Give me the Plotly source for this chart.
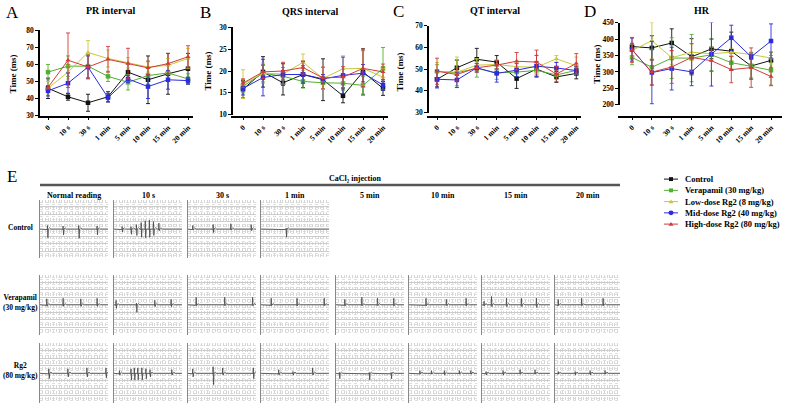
import plotly.graph_objects as go

W, H = 786, 414
SERIF = "Liberation Serif"

times = ["0", "10 s", "30 s", "1 min", "5 min", "10 min", "15 min", "20 min"]
groups = ["Control", "Verapamil (30 mg/kg)", "Low-dose Rg2 (8 mg/kg)",
          "Mid-dose Rg2 (40 mg/kg)", "High-dose Rg2 (80 mg/kg)"]
colors = ["#111111", "#52b030", "#c8c83a", "#2b2be0", "#d23a3a"]
symbols = ["square", "square", "triangle-up", "square", "triangle-up"]

# PR interval (ms): control, verapamil, low, mid, high
pr_mean = [
    [46, 41, 37.5, 41, 55.5, 51, 54.5, 57.5],
    [55.5, 59, 59, 53, 49.5, 53.5, 55, 51.5],
    [46, 55.5, 67, 63.5, 61, 58.5, 59.5, 63.5],
    [44.5, 49, 58.5, 40.5, 51.5, 47, 51, 50.5],
    [46.5, 62.5, 58.5, 63, 60.5, 58, 60.5, 64.5],
]
pr_sd = [
    [6, 2, 5, 3, 5, 14, 12, 9],
    [4.5, 6, 7, 3, 4.5, 5, 5, 3],
    [4, 4, 7, 5, 3, 3, 4, 6],
    [3, 6, 6.5, 2.5, 2, 7, 5.5, 2],
    [1, 16, 7, 7.5, 9, 4, 6, 6.5],
]
# QRS interval (ms)
qrs_mean = [
    [15.8, 19.8, 17.3, 19.2, 18, 14.3, 19.8, 16],
    [16.5, 19.5, 18.8, 17.6, 17.3, 17.2, 16.7, 20.6],
    [17, 19.5, 19.3, 22, 18.3, 20.5, 20.6, 18.6],
    [16, 18.5, 19.2, 19.2, 18.2, 19, 19.5, 16.8],
    [17.2, 19.8, 20, 20.8, 18.4, 18.6, 20.6, 19.8],
]
qrs_sd = [
    [2, 3.5, 2.8, 3, 4.8, 1.6, 5.3, 1.6],
    [1.5, 2, 2, 1.5, 1.5, 1.6, 2, 4.8],
    [3.3, 2.3, 2.3, 1.9, 2.5, 3, 4, 2],
    [1.5, 4.2, 2.5, 2, 1, 4.2, 2, 1.2],
    [1, 1.5, 2, 1.5, 2.5, 2.4, 4.2, 1.8],
]
# QT interval (ms)
qt_mean = [
    [45.3, 50.6, 54.5, 53.2, 45.6, 50, 46.4, 48],
    [49, 48.3, 50.3, 48.3, 48.6, 49.4, 47.3, 49.4],
    [49, 48.5, 51.8, 52.1, 51.1, 50.8, 54.7, 51.5],
    [45.3, 45, 50.6, 48, 49.5, 51.3, 50.5, 49.3],
    [49, 47.5, 50.6, 51.8, 53.6, 53.2, 47.7, 52.6],
]
qt_sd = [
    [3.5, 3.5, 5, 3, 4.5, 3.5, 2.5, 2.5],
    [3, 6, 4, 3, 2, 2.5, 2, 2],
    [4, 7, 3, 2, 2, 2, 1.5, 4],
    [4, 3.5, 2, 4, 3, 5, 2.5, 2],
    [6, 3, 2, 2, 4, 5.5, 3.5, 4.5],
]
# HR
hr_mean = [
    [377, 373, 388, 346, 370, 363, 318, 335],
    [344, 314, 342, 342, 352, 328, 317, 305],
    [365, 395, 343, 360, 355, 360, 353, 342],
    [368, 298, 310, 300, 354, 404, 346, 394],
    [367, 299, 315, 344, 334, 307, 313, 286],
]
hr_sd = [
    [10, 37, 43, 55, 30, 58, 40, 25],
    [22, 55, 62, 72, 48, 20, 35, 45],
    [20, 55, 20, 25, 20, 12, 8, 18],
    [35, 95, 65, 42, 97, 38, 8, 52],
    [38, 38, 50, 42, 33, 40, 60, 28],
]

# ECG beats per panel: (position 0-1, R height, S depth)
ecg_columns = ["Normal reading", "10 s", "30 s", "1 min", "5 min", "10 min", "15 min", "20 min"]
ecg_rows = ["Control", "Verapamil<br>(30 mg/kg)", "Rg2<br>(80 mg/kg)"]
ctrl_beats = [
    [(0.11, 0.12, -0.3), (0.34, 0.1, -0.2), (0.57, 0.12, -0.32), (0.84, 0.1, -0.2)],
    [(0.12, 0.08, -0.1), (0.25, 0.08, -0.18), (0.33, 0.15, -0.22), (0.40, 0.22, -0.28),
     (0.46, 0.28, -0.3), (0.52, 0.3, -0.28), (0.58, 0.25, -0.22), (0.66, 0.2, -0.06)],
    [(0.07, 0.12, -0.03), (0.37, 0.15, -0.12), (0.63, 0.18, -0.03), (0.93, 0.15, -0.06)],
    [(0.37, 0.03, -0.28)],
]
vera_beats = [
    [(0.1, 0.2, -0.05), (0.34, 0.22, -0.05), (0.6, 0.2, -0.05), (0.84, 0.22, -0.05)],
    [(0.03, 0.15, -0.12), (0.33, 0.06, -0.25), (0.6, 0.15, -0.06), (0.84, 0.18, -0.06)],
    [(0.12, 0.25, -0.03), (0.54, 0.25, -0.03), (0.95, 0.25, -0.03)],
    [(0.15, 0.22, -0.03), (0.53, 0.22, -0.03), (0.93, 0.22, -0.03)],
    [(0.13, 0.18, -0.03), (0.38, 0.25, -0.03), (0.61, 0.22, -0.03), (0.85, 0.22, -0.03)],
    [(0.25, 0.22, -0.03), (0.55, 0.18, -0.03), (0.84, 0.22, -0.03)],
    [(0.03, 0.12, -0.03), (0.14, 0.28, -0.06), (0.36, 0.22, -0.06), (0.58, 0.22, -0.06), (0.8, 0.22, -0.09)],
    [(0.05, 0.18, -0.03), (0.41, 0.22, -0.03), (0.74, 0.22, -0.03)],
]
rg2_beats = [
    [(0.13, 0.15, -0.18), (0.41, 0.15, -0.12), (0.69, 0.18, -0.12), (0.97, 0.18, -0.15)],
    [(0.08, 0.09, -0.06), (0.25, 0.15, -0.22), (0.3, 0.18, -0.22), (0.35, 0.18, -0.22),
     (0.41, 0.18, -0.22), (0.47, 0.15, -0.18), (0.53, 0.12, -0.12), (0.85, 0.12, -0.06)],
    [(0.07, 0.15, -0.12), (0.37, 0.22, -0.38), (0.51, 0.18, -0.06), (0.96, 0.18, -0.18)],
    [(0.26, 0.12, -0.06), (0.47, 0.06, -0.06), (0.76, 0.18, -0.06)],
    [(0.05, 0.03, -0.18), (0.49, 0.03, -0.22), (0.81, 0.03, -0.18)],
    [(0.16, 0.09, -0.03), (0.33, 0.09, -0.03), (0.52, 0.09, -0.06), (0.74, 0.09, -0.03), (0.91, 0.09, -0.03)],
    [(0.06, 0.06, -0.06), (0.31, 0.09, -0.06), (0.56, 0.12, -0.03), (0.78, 0.12, -0.03)],
    [(0.05, 0.06, -0.03), (0.31, 0.06, -0.06), (0.54, 0.09, -0.06), (0.77, 0.09, -0.03)],
]


def fx(px):
    return px / W


def fy(py):
    return 1 - py / H


def ak(letter, n):
    return f"{letter}axis" if n == 1 else f"{letter}axis{n}"


def ar(letter, n):
    return letter if n == 1 else f"{letter}{n}"


def label(text, px, py, size=8, weight="bold", xanchor="center", angle=0):
    return dict(text=text, x=fx(px), y=fy(py), xref="paper", yref="paper",
                xanchor=xanchor, yanchor="middle", showarrow=False, textangle=angle,
                font=dict(size=size, weight=weight))


fig = go.Figure()
layout = dict(
    width=W, height=H, margin=dict(l=0, r=0, t=0, b=0),
    paper_bgcolor="white", plot_bgcolor="rgba(0,0,0,0)",
    showlegend=False, font=dict(family=SERIF, color="black"),
)
annotations = []
shapes = []

tickfont = dict(family=SERIF, size=7.5, color="black", weight="bold")
axis_line = dict(showline=True, linecolor="black", linewidth=1.5, ticks="outside",
                 ticklen=3, tickwidth=1.3, tickcolor="black", showgrid=False,
                 zeroline=False, tickfont=tickfont)

# panel geometry: L, R, first point px, step, top, bottom, lower top, lower bottom
panels = [
    ("A", "PR interval", pr_mean, pr_sd, (40, 193, 48, 20.0, 27, 114, 123, 132),
     [30, 80], 10, [0, 10], ["0", ""], (110, 7), (12, 9), (13, 71)),
    ("B", "QRS interval", qrs_mean, qrs_sd, (233, 388, 243, 20.0, 24, 113, 121, 131),
     [10, 30], 5, [0, 10], ["0", "10"], (310, 8), (205, 9), (208, 68)),
    ("C", "QT interval", qt_mean, qt_sd, (429, 581, 437, 19.9, 22, 111, 118, 128),
     [30, 70], 10, [0, 10], ["0", ""], (495, 7), (398, 8), (400, 70)),
    ("D", "HR", hr_mean, hr_sd, (620, 782, 632, 19.86, 19, 103, 110, 126),
     [200, 450], 50, [0, 200], ["0", "200"], (702, 7), (590, 8), (597, 62)),
]

for k, (letter, title, means, sds, geo, yr, dt, lowr, lowt, tpos, lpos, ypos) in enumerate(panels):
    L, R, p0, s, top, bot, ltop, lbot = geo
    xn, yu, yl = k + 1, 2 * k + 1, 2 * k + 2
    layout[ak("x", xn)] = dict(
        domain=[fx(L), fx(R)], range=[(L - p0) / s, (R - p0) / s],
        anchor=ar("y", yl), tickvals=list(range(len(times))), ticktext=times,
        tickangle=-45, **axis_line)
    layout[ak("y", yu)] = dict(
        domain=[fy(bot), fy(top)], range=yr, dtick=dt, anchor=ar("x", xn), **axis_line)
    layout[ak("y", yl)] = dict(
        domain=[fy(lbot), fy(ltop)], range=lowr, tickvals=lowr, ticktext=lowt,
        anchor=ar("x", xn), **axis_line)
    for g in range(len(groups)):
        fig.add_trace(go.Scatter(
            x=list(range(len(times))), y=means[g],
            error_y=dict(type="data", array=sds[g], color=colors[g], thickness=0.9, width=2),
            mode="lines+markers", line=dict(color=colors[g], width=1),
            marker=dict(symbol=symbols[g], size=4.5, color=colors[g]),
            name=groups[g], xaxis=ar("x", xn), yaxis=ar("y", yu), cliponaxis=False))
    annotations.append(label(title, tpos[0], tpos[1], size=10))
    annotations.append(label(letter, lpos[0], lpos[1], size=17, weight="normal"))
    annotations.append(label("Time (ms)", ypos[0], ypos[1], size=9, angle=-90))

# ECG section
annotations.append(label("E", 12, 176, size=17, weight="normal"))
annotations.append(label("CaCl₂ injection", 355, 178))
shapes.append(dict(type="line", xref="paper", yref="paper", x0=fx(40), x1=fx(620),
                   y0=fy(185), y1=fy(185), line=dict(color="#555555", width=2.5)))

col_x = [40, 114, 188, 261, 336, 409, 482, 555]
col_w = [68, 68, 68, 68, 68, 68, 68, 65]
row_y = [(200, 260), (277, 338), (347, 408)]
row_label_y = [228, 305, 375]

for c, name in enumerate(ecg_columns):
    annotations.append(label(name, col_x[c] + col_w[c] / 2, 196))
for r, name in enumerate(ecg_rows):
    annotations.append(label(name, 20, row_label_y[r], size=7.5))


def ecg_line(beats):
    xs, ys = [0.0], [0.0]
    for i, (p, up, dn) in enumerate(beats):
        nxt = beats[i + 1][0] if i + 1 < len(beats) else 2.0
        xs += [p - 0.015, p - 0.005, p, p + 0.006, p + 0.012]
        ys += [0, -0.02, up, dn, 0]
        if p + 0.05 < nxt - 0.015:
            xs += [p + 0.03, p + 0.05]
            ys += [0.04, 0]
    xs.append(1.0)
    ys.append(0.0)
    return xs, ys


an = 5
for r, row in enumerate([ctrl_beats, vera_beats, rg2_beats]):
    y0, y1 = row_y[r]
    for c, beats in enumerate(row):
        xn, yn = an, an + 4
        layout[ak("x", xn)] = dict(
            domain=[fx(col_x[c]), fx(col_x[c] + col_w[c])], range=[0, 1], anchor=ar("y", yn),
            showticklabels=False, ticks="", zeroline=False, showline=False,
            showgrid=True, dtick=0.04, gridcolor="#d6d6d6", gridwidth=0.5, griddash="dot")
        layout[ak("y", yn)] = dict(
            domain=[fy(y1), fy(y0)], range=[-1, 1], anchor=ar("x", xn),
            showticklabels=False, ticks="", zeroline=False,
            showline=True, linecolor="#888888", linewidth=1.2,
            showgrid=True, dtick=0.25, gridcolor="#cccccc", gridwidth=0.6,
            minor=dict(dtick=0.0833, showgrid=True, gridcolor="#dedede", griddash="dot", gridwidth=0.5))
        xs, ys = ecg_line(beats)
        fig.add_trace(go.Scatter(x=xs, y=ys, mode="lines", line=dict(color="#444444", width=0.8),
                                 xaxis=ar("x", xn), yaxis=ar("y", yn), hoverinfo="skip"))
        an += 1

# legend (drawn by hand for compact spacing)
leg_y = [179, 190.5, 202, 213.5, 225]
for g, name in enumerate(groups):
    yy = leg_y[g]
    shapes.append(dict(type="line", xref="paper", yref="paper", x0=fx(664), x1=fx(678),
                       y0=fy(yy), y1=fy(yy), line=dict(color=colors[g], width=1)))
    if symbols[g] == "triangle-up":
        path = f"M {fx(668.5)} {fy(yy + 1.8)} L {fx(673.5)} {fy(yy + 1.8)} L {fx(671)} {fy(yy - 2.2)} Z"
        shapes.append(dict(type="path", xref="paper", yref="paper", path=path,
                           fillcolor=colors[g], line=dict(width=0)))
    elif g == 3:
        shapes.append(dict(type="circle", xref="paper", yref="paper", x0=fx(668.5), x1=fx(673.5),
                           y0=fy(yy + 2.5), y1=fy(yy - 2.5), fillcolor=colors[g], line=dict(width=0)))
    else:
        shapes.append(dict(type="rect", xref="paper", yref="paper", x0=fx(669), x1=fx(673),
                           y0=fy(yy + 2), y1=fy(yy - 2), fillcolor=colors[g], line=dict(width=0)))
    annotations.append(label(name, 683, yy, size=8.5, xanchor="left"))

layout["annotations"] = annotations
layout["shapes"] = shapes
fig.update_layout(**layout)
# page body has a default 8px margin; drop it so the figure fills the window
fig.write_html("out.html", config={"displayModeBar": False},
               post_script="document.body.style.margin='0';")
